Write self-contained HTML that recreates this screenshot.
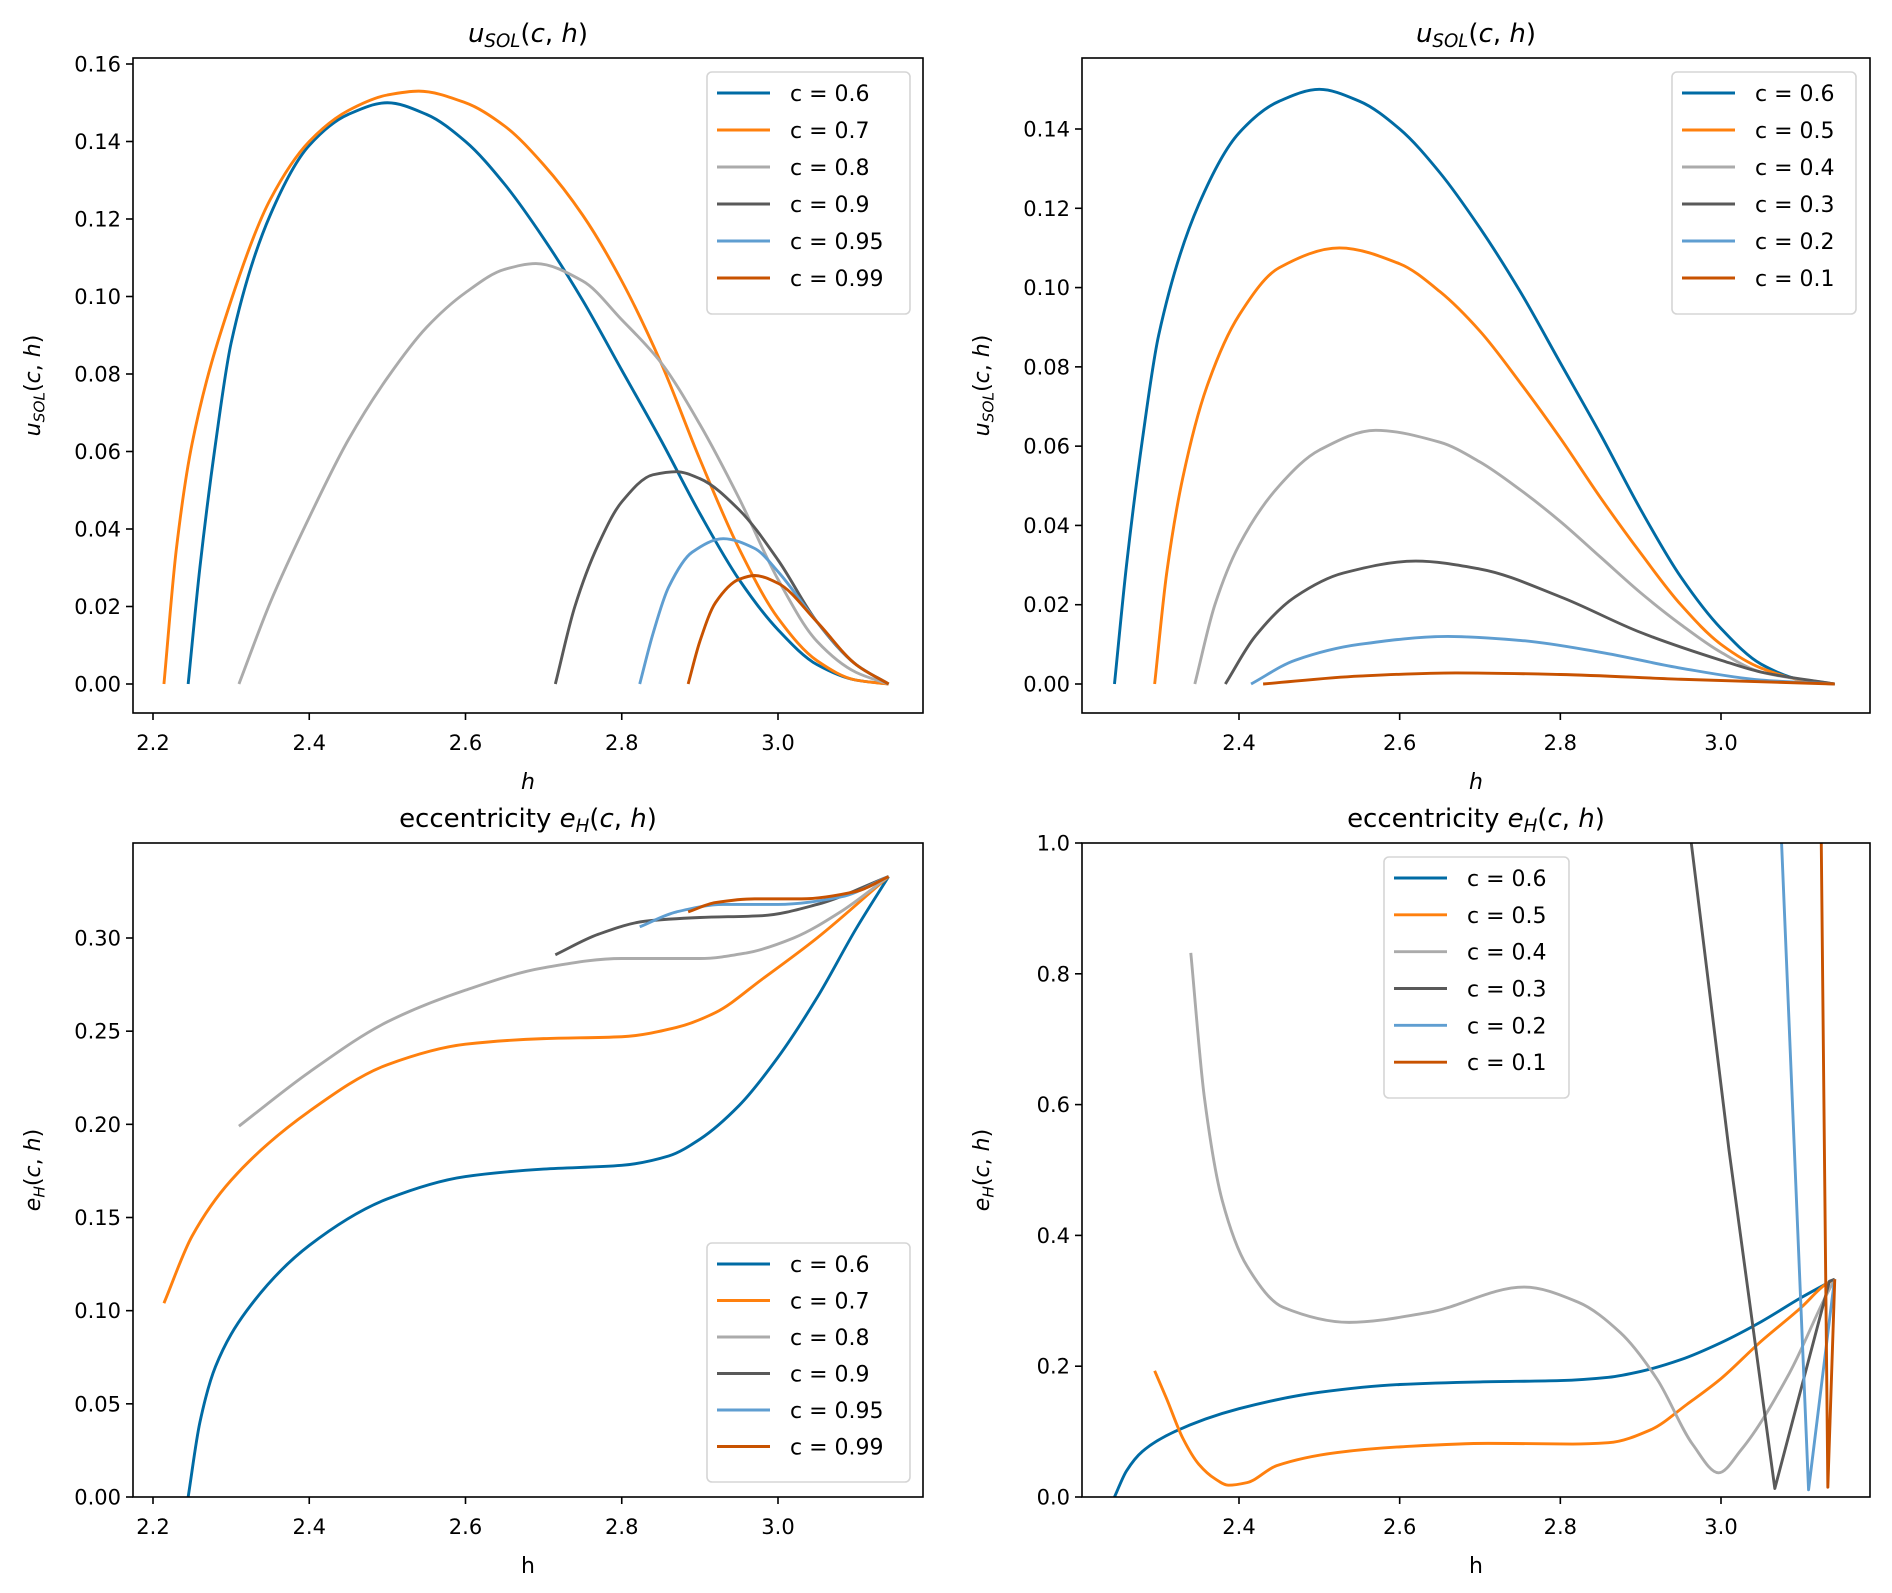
<!DOCTYPE html>
<html><head><meta charset="utf-8"><style>
html,body{margin:0;padding:0;background:#fff;}
svg{display:block;font-family:"DejaVu Sans","Liberation Sans",sans-serif;}
</style></head><body>
<svg id="fig" width="1892" height="1593" viewBox="0 0 1892 1593" xmlns="http://www.w3.org/2000/svg"></svg>
<script>
// ---------- data ----------
const colors = ["#006BA4","#FF800E","#ABABAB","#595959","#5F9ED1","#C85200"];
const labelsA = ["c = 0.6","c = 0.7","c = 0.8","c = 0.9","c = 0.95","c = 0.99"];
const labelsB = ["c = 0.6","c = 0.5","c = 0.4","c = 0.3","c = 0.2","c = 0.1"];
const ticksXA = [2.2,2.4,2.6,2.8,3.0];
const ticksXB = [2.4,2.6,2.8,3.0];
const ticksY1 = [0,0.02,0.04,0.06,0.08,0.10,0.12,0.14,0.16];
const ticksY2 = [0,0.02,0.04,0.06,0.08,0.10,0.12,0.14];
const ticksY3 = [0,0.05,0.10,0.15,0.20,0.25,0.30];
const ticksY4 = [0,0.2,0.4,0.6,0.8,1.0];

// top-left: u_SOL, c = 0.6..0.99
const tlH0 = [2.245,2.26,2.28,2.30,2.35,2.40,2.45,2.50,2.55,2.60,2.65,2.70,2.75,2.80,2.85,2.90,2.95,3.00,3.05,3.10,3.1416];
const tlU0 = [0,0.03,0.062,0.088,0.121,0.139,0.147,0.150,0.147,0.140,0.129,0.115,0.099,0.081,0.063,0.044,0.027,0.014,0.005,0.001,0];
const tlH1 = [2.214,2.23,2.25,2.30,2.35,2.40,2.45,2.50,2.54,2.60,2.65,2.70,2.75,2.80,2.85,2.90,2.95,3.00,3.05,3.10,3.1416];
const tlU1 = [0,0.035,0.062,0.099,0.125,0.140,0.148,0.152,0.153,0.150,0.144,0.134,0.121,0.104,0.083,0.058,0.035,0.017,0.006,0.001,0];
const tlH2 = [2.31,2.35,2.40,2.45,2.50,2.55,2.60,2.65,2.69,2.75,2.80,2.85,2.90,2.95,3.00,3.05,3.10,3.1416];
const tlU2 = [0,0.021,0.043,0.063,0.079,0.092,0.101,0.107,0.1085,0.104,0.094,0.083,0.067,0.048,0.027,0.011,0.003,0];
const tlH3 = [2.715,2.74,2.77,2.80,2.84,2.87,2.90,2.95,3.00,3.05,3.10,3.1416];
const tlU3 = [0,0.02,0.036,0.047,0.054,0.0548,0.053,0.045,0.032,0.016,0.005,0];
const tlH4 = [2.823,2.84,2.86,2.89,2.93,2.97,3.00,3.05,3.10,3.1416];
const tlU4 = [0,0.013,0.025,0.034,0.0375,0.035,0.029,0.016,0.005,0];
const tlH5 = [2.885,2.90,2.92,2.95,2.97,3.00,3.05,3.10,3.1416];
const tlU5 = [0,0.011,0.021,0.027,0.028,0.026,0.016,0.005,0];

// top-right: u_SOL, c = 0.6..0.1
const trH1 = [2.295,2.31,2.33,2.36,2.40,2.45,2.525,2.60,2.65,2.70,2.75,2.80,2.85,2.90,2.95,3.00,3.05,3.10,3.1416];
const trU1 = [0,0.028,0.052,0.075,0.093,0.105,0.110,0.106,0.099,0.089,0.076,0.062,0.047,0.033,0.020,0.010,0.004,0.001,0];
const trH2 = [2.345,2.37,2.40,2.45,2.50,2.57,2.65,2.70,2.75,2.80,2.85,2.90,2.95,3.00,3.05,3.1416];
const trU2 = [0,0.02,0.035,0.050,0.059,0.064,0.061,0.056,0.049,0.041,0.032,0.023,0.015,0.008,0.003,0];
const trH3 = [2.383,2.42,2.47,2.53,2.62,2.70,2.80,2.90,3.00,3.05,3.1416];
const trU3 = [0,0.012,0.022,0.028,0.031,0.029,0.022,0.013,0.006,0.003,0];
const trH4 = [2.415,2.47,2.55,2.66,2.75,2.85,2.95,3.05,3.1416];
const trU4 = [0,0.006,0.010,0.012,0.011,0.008,0.004,0.001,0];
const trH5 = [2.43,2.55,2.67,2.80,2.95,3.1416];
const trU5 = [0,0.002,0.0028,0.0024,0.0012,0];

// bottom-left: eccentricity, c = 0.6..0.99
const blH0 = [2.245,2.26,2.28,2.32,2.40,2.50,2.60,2.70,2.80,2.86,2.90,2.95,3.00,3.05,3.10,3.1416];
const blE0 = [0,0.04,0.07,0.10,0.135,0.160,0.172,0.176,0.178,0.183,0.192,0.210,0.236,0.268,0.305,0.333];
const blH1 = [2.214,2.25,2.30,2.40,2.50,2.60,2.70,2.80,2.87,2.92,2.98,3.05,3.1416];
const blE1 = [0.104,0.14,0.17,0.207,0.232,0.243,0.246,0.247,0.252,0.26,0.278,0.300,0.333];
const blH2 = [2.31,2.40,2.50,2.60,2.70,2.80,2.90,2.96,3.02,3.08,3.1416];
const blE2 = [0.199,0.228,0.255,0.272,0.284,0.289,0.289,0.292,0.300,0.314,0.333];
const blH3 = [2.715,2.77,2.83,2.90,2.98,3.05,3.1416];
const blE3 = [0.291,0.302,0.309,0.311,0.312,0.318,0.333];
const blH4 = [2.823,2.87,2.93,3.00,3.08,3.1416];
const blE4 = [0.306,0.314,0.318,0.318,0.322,0.333];
const blH5 = [2.885,2.92,2.97,3.03,3.10,3.1416];
const blE5 = [0.314,0.319,0.321,0.321,0.325,0.333];

// bottom-right: eccentricity, c = 0.6..0.1
const brH1 = [2.295,2.31,2.33,2.35,2.37,2.387,2.41,2.447,2.522,2.605,2.71,2.815,2.86,2.913,2.958,3.0,3.048,3.10,3.13,3.1416];
const brE1 = [0.193,0.15,0.09,0.05,0.028,0.018,0.022,0.048,0.068,0.077,0.082,0.081,0.083,0.103,0.142,0.181,0.236,0.29,0.325,0.333];
const brH2 = [2.34,2.357,2.379,2.41,2.455,2.537,2.635,2.755,2.822,2.875,2.92,2.965,2.997,3.025,3.085,3.13,3.1416];
const brE2 = [0.832,0.61,0.454,0.353,0.29,0.267,0.282,0.321,0.298,0.251,0.181,0.08,0.037,0.072,0.189,0.306,0.333];
const brH3 = [2.955,3.01,3.067,3.135,3.1416];
const brE3 = [1.08,0.53,0.013,0.33,0.333];
const brH4 = [3.072,3.109,3.139,3.1416];
const brE4 = [1.1,0.011,0.31,0.333];
const brH5 = [3.124,3.133,3.1416];
const brE5 = [1.1,0.015,0.333];

// ---------- drawing ----------
const NS="http://www.w3.org/2000/svg";
const svg=document.getElementById('fig');
function mk(tag,attrs,parent){const e=document.createElementNS(NS,tag);for(const k in attrs)e.setAttribute(k,attrs[k]);(parent||svg).appendChild(e);return e;}

const panels=[
 {id:'top-left',L:133,R:923,T:58,B:713,x0:2.2,px0:153,x1:3.0,px1:778,y0:0,py0:684,y1:0.16,py1:64,
  xt:ticksXA,yt:ticksY1,yfmt:2,labels:labelsA,
  series:[[tlH0,tlU0],[tlH1,tlU1],[tlH2,tlU2],[tlH3,tlU3],[tlH4,tlU4],[tlH5,tlU5]],
  leg:{x:707,y:72,w:203,h:242},title:'u',ylab:'u',xlabItalic:true},
 {id:'top-right',L:1082,R:1870,T:58,B:713,x0:2.4,px0:1239,x1:3.0,px1:1721,y0:0,py0:684,y1:0.14,py1:129,
  xt:ticksXB,yt:ticksY2,yfmt:2,labels:labelsB,
  series:[[tlH0,tlU0],[trH1,trU1],[trH2,trU2],[trH3,trU3],[trH4,trU4],[trH5,trU5]],
  leg:{x:1672,y:72,w:184,h:242},title:'u',ylab:'u',xlabItalic:true},
 {id:'bottom-left',L:133,R:923,T:843,B:1497,x0:2.2,px0:153,x1:3.0,px1:778,y0:0,py0:1497,y1:0.30,py1:938,
  xt:ticksXA,yt:ticksY3,yfmt:2,labels:labelsA,
  series:[[blH0,blE0],[blH1,blE1],[blH2,blE2],[blH3,blE3],[blH4,blE4],[blH5,blE5]],
  leg:{x:707,y:1243,w:203,h:239},title:'e',ylab:'e',xlabItalic:false},
 {id:'bottom-right',L:1082,R:1870,T:843,B:1497,x0:2.4,px0:1239,x1:3.0,px1:1721,y0:0,py0:1497,y1:1.0,py1:843,
  xt:ticksXB,yt:ticksY4,yfmt:1,labels:labelsB,
  series:[[blH0,blE0],[brH1,brE1],[brH2,brE2],[brH3,brE3],[brH4,brE4],[brH5,brE5]],
  leg:{x:1384,y:857,w:185,h:241},title:'e',ylab:'e',xlabItalic:false,sharp:[3,4,5]}
];

function pathFor(pts,smooth){
  const n=pts.length;
  if(!smooth||n<3) return 'M'+pts.map(p=>p[0].toFixed(2)+','+p[1].toFixed(2)).join('L');
  const dx=[],s=[];
  for(let i=0;i<n-1;i++){dx[i]=pts[i+1][0]-pts[i][0];s[i]=(pts[i+1][1]-pts[i][1])/dx[i];}
  const m=[s[0]];
  for(let i=1;i<n-1;i++){
    if(s[i-1]*s[i]<=0) m[i]=0;
    else{const w1=2*dx[i]+dx[i-1],w2=dx[i]+2*dx[i-1];m[i]=(w1+w2)/(w1/s[i-1]+w2/s[i]);}
  }
  m[n-1]=s[n-2];
  let d='M'+pts[0][0].toFixed(2)+','+pts[0][1].toFixed(2);
  for(let i=0;i<n-1;i++){
    const h=dx[i]/3;
    d+='C'+(pts[i][0]+h).toFixed(2)+','+(pts[i][1]+m[i]*h).toFixed(2)+' '+(pts[i+1][0]-h).toFixed(2)+','+(pts[i+1][1]-m[i+1]*h).toFixed(2)+' '+pts[i+1][0].toFixed(2)+','+pts[i+1][1].toFixed(2);
  }
  return d;
}

function titleText(g,kind,x,y,size,prefix){
  const t=mk('text',{x:x,y:y,'text-anchor':'middle','font-size':size,fill:'#000'},g);
  if(prefix){const a=mk('tspan',{},t);a.textContent=prefix;}
  const v=mk('tspan',{'font-style':'italic'},t);v.textContent=kind;
  const s=mk('tspan',{'font-style':'italic','font-size':size*0.7,dy:size*0.2},t);s.textContent=(kind==='u'?'SOL':'H');
  const r=mk('tspan',{dy:-size*0.2},t);r.textContent='(';
  const c=mk('tspan',{'font-style':'italic'},t);c.textContent='c';
  const cm=mk('tspan',{},t);cm.textContent=', ';
  const h=mk('tspan',{'font-style':'italic'},t);h.textContent='h';
  const cl=mk('tspan',{},t);cl.textContent=')';
  return t;
}

panels.forEach((P,pi)=>{
  const g=mk('g',{});
  
  
  const sx=v=>P.px0+(v-P.x0)*(P.px1-P.px0)/(P.x1-P.x0);
  const sy=v=>P.py0+(v-P.y0)*(P.py1-P.py0)/(P.y1-P.y0);
  const cp=mk('clipPath',{id:'clip'+pi},g);
  mk('rect',{x:P.L,y:P.T,width:P.R-P.L,height:P.B-P.T},cp);
  const sg=mk('g',{'clip-path':'url(#clip'+pi+')'},g);
  
  
  P.series.forEach((s,si)=>{
    const pts=s[0].map((h,k)=>[sx(h),sy(s[1][k])]);
    const smooth=!(P.sharp&&P.sharp.indexOf(si)>=0);
    const p=mk('path',{d:pathFor(pts,smooth),fill:'none',stroke:colors[si],'stroke-width':2.9,'stroke-linejoin':'round'},sg);
    
    
  });
  const fr=mk('rect',{x:P.L,y:P.T,width:P.R-P.L,height:P.B-P.T,fill:'none',stroke:'#000','stroke-width':1.6},g);
  
  
  P.xt.forEach(v=>{
    const x=sx(v);
    mk('line',{x1:x,x2:x,y1:P.B,y2:P.B+7,stroke:'#000','stroke-width':1.6},g);
    const t=mk('text',{x:x,y:P.B+37,'text-anchor':'middle','font-size':21,fill:'#000'},g);
    t.textContent=v.toFixed(1);
    
    
  });
  P.yt.forEach(v=>{
    const y=sy(v);
    mk('line',{x1:P.L-7,x2:P.L,y1:y,y2:y,stroke:'#000','stroke-width':1.6},g);
    const t=mk('text',{x:P.L-12,y:y+7.5,'text-anchor':'end','font-size':21,fill:'#000'},g);
    t.textContent=v.toFixed(P.yfmt);
    
    
  });
  const cx=(P.L+P.R)/2;
  const tt=titleText(g,P.title,cx,P.T-16,26,P.title==='e'?'eccentricity ':'');
  
  
  const xl=mk('text',{x:cx,y:P.B+76,'text-anchor':'middle','font-size':22,fill:'#000','font-style':P.xlabItalic?'italic':'normal'},g);
  xl.textContent='h';
  
  
  const yc=(P.T+P.B)/2;
  const yg=mk('g',{transform:'translate('+(P.L-93)+','+yc+') rotate(-90)'},g);
  const yl=titleText(yg,P.ylab,0,0,22,'');
  
  
  const lg=mk('g',{},g);
  
  
  mk('rect',{x:P.leg.x,y:P.leg.y,width:P.leg.w,height:P.leg.h,rx:5,fill:'#fff','fill-opacity':0.85,stroke:'#d5d5d5','stroke-width':1.6},lg);
  const step=(P.leg.h-20)/6;
  P.labels.forEach((lab,i)=>{
    const y=P.leg.y+21+step*i;
    const e=mk('g',{},lg);
    
    
    mk('line',{x1:P.leg.x+10,x2:P.leg.x+63,y1:y,y2:y,stroke:colors[i],'stroke-width':2.9},e);
    const t=mk('text',{x:P.leg.x+83,y:y+8,'font-size':22,fill:'#000'},e);
    t.textContent=lab;
  });
});
</script>
</body></html>
